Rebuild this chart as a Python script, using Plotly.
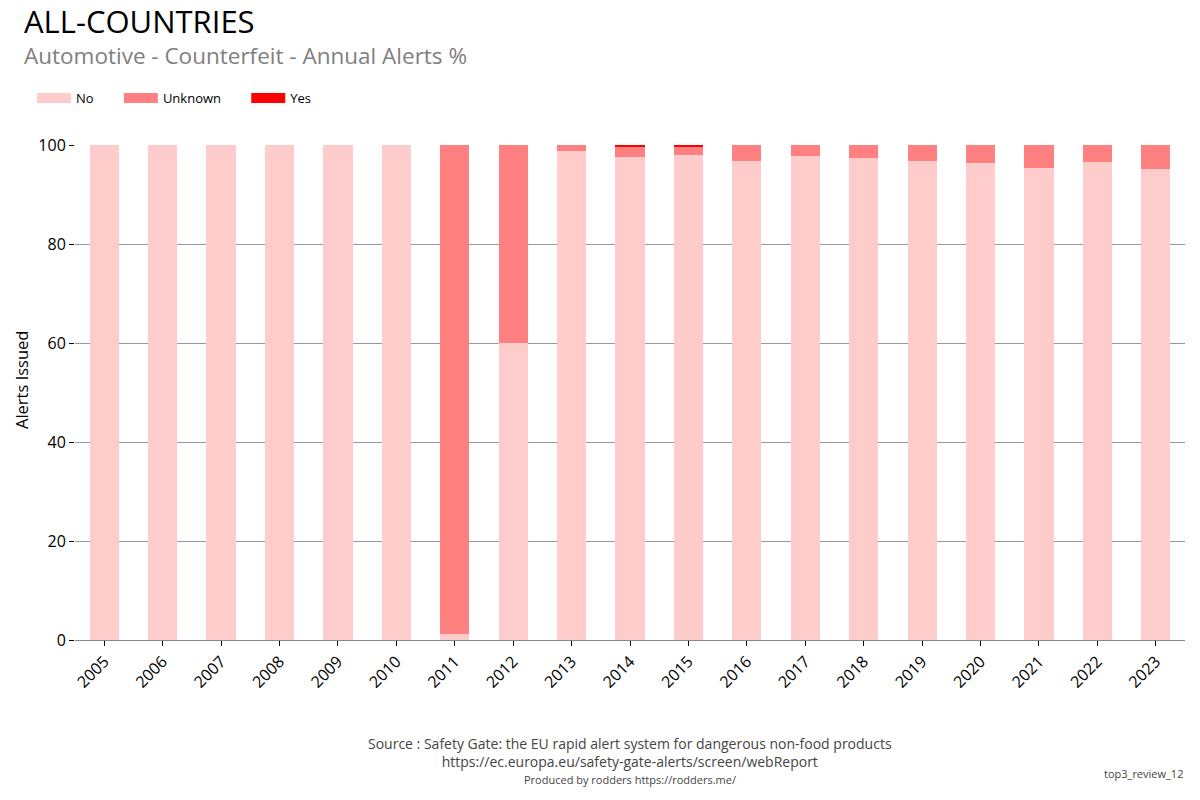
import plotly.graph_objects as go

years = [str(y) for y in range(2005, 2024)]
no_pct = [100, 100, 100, 100, 100, 100, 1.2, 60.0, 98.8, 97.6, 98.0, 96.8, 97.8, 97.4, 96.8, 96.4, 95.4, 96.6, 95.2]
unknown_pct = [0, 0, 0, 0, 0, 0, 98.8, 40.0, 1.2, 2.0, 1.6, 3.2, 2.2, 2.6, 3.2, 3.6, 4.6, 3.4, 4.8]
yes_pct = [0, 0, 0, 0, 0, 0, 0, 0, 0, 0.4, 0.4, 0, 0, 0, 0, 0, 0, 0, 0]

series_names = ["No", "Unknown", "Yes"]
series_colors = ["#FFCCCC", "#FF8080", "#FF0000"]
series_values = [no_pct, unknown_pct, yes_pct]

FONT = "Open Sans, Noto Sans, sans-serif"
NB = "\u00a0"

fig = go.Figure()
for name, color, vals in zip(series_names, series_colors, series_values):
    fig.add_bar(x=years, y=vals, name=name, marker_color=color,
                marker_line_width=0, showlegend=False, legendgroup=name)
# legend entries drawn as wide rectangles (thick line swatches)
for name, color in zip(series_names, series_colors):
    fig.add_scatter(x=[None], y=[None], mode="lines", name=name + NB * 6,
                    line=dict(color=color, width=10), legendgroup=name,
                    showlegend=True, hoverinfo="skip")


def py(p):
    # page pixel y -> paper y (plot top 145, bottom 640 on page)
    return (640 - p) / 495.0


def px(p):
    return (p - 75) / 1110.0


fig.update_layout(
    barmode="stack",
    bargap=0.5,
    width=1200, height=800,
    plot_bgcolor="white", paper_bgcolor="white",
    font=dict(family=FONT, size=14, color="black"),
    margin=dict(l=67, r=23, t=137, b=168),
    legend=dict(
        orientation="h", x=px(32), xanchor="left", y=py(98), yanchor="middle",
        font=dict(size=13), traceorder="normal", itemwidth=34,
        bgcolor="rgba(0,0,0,0)",
    ),
    xaxis=dict(
        type="category", tickangle=-45, showline=True, linecolor="#888888",
        ticks="outside", ticklen=5, tickcolor="black", tickfont=dict(size=16),
        fixedrange=True,
    ),
    yaxis=dict(
        range=[0, 100], dtick=20, showgrid=True, gridcolor="#999999", gridwidth=1,
        zeroline=False,
        tickfont=dict(size=16), ticks="outside", ticklen=5, tickcolor="black",
        showline=False,
    ),
    annotations=[
        dict(text="ALL-COUNTRIES", xref="paper", yref="paper",
             x=px(22), y=py(21), xanchor="left", yanchor="middle",
             showarrow=False, font=dict(size=31, color="black")),
        dict(text="Automotive - Counterfeit - Annual Alerts %", xref="paper", yref="paper",
             x=px(22), y=py(56), xanchor="left", yanchor="middle",
             showarrow=False, font=dict(size=22.5, color="#808080")),
        dict(text="Alerts Issued", xref="paper", yref="paper", textangle=-90,
             x=px(21), y=py(380), xanchor="center", yanchor="middle",
             showarrow=False, font=dict(size=16.5, color="black")),
        dict(text="Source : Safety Gate: the EU rapid alert system for dangerous non-food products<br>https://ec.europa.eu/safety-gate-alerts/screen/webReport",
             xref="paper", yref="paper", x=px(630), y=py(752), xanchor="center", yanchor="middle",
             showarrow=False, font=dict(size=14, color="#444444")),
        dict(text="Produced by rodders https://rodders.me/",
             xref="paper", yref="paper", x=px(630), y=py(779), xanchor="center", yanchor="middle",
             showarrow=False, font=dict(size=11, color="#444444")),
        dict(text="top3_review_12",
             xref="paper", yref="paper", x=px(1185), y=py(773), xanchor="right", yanchor="middle",
             showarrow=False, font=dict(size=11, color="#444444")),
    ],
)

fig.write_html("out.html")
